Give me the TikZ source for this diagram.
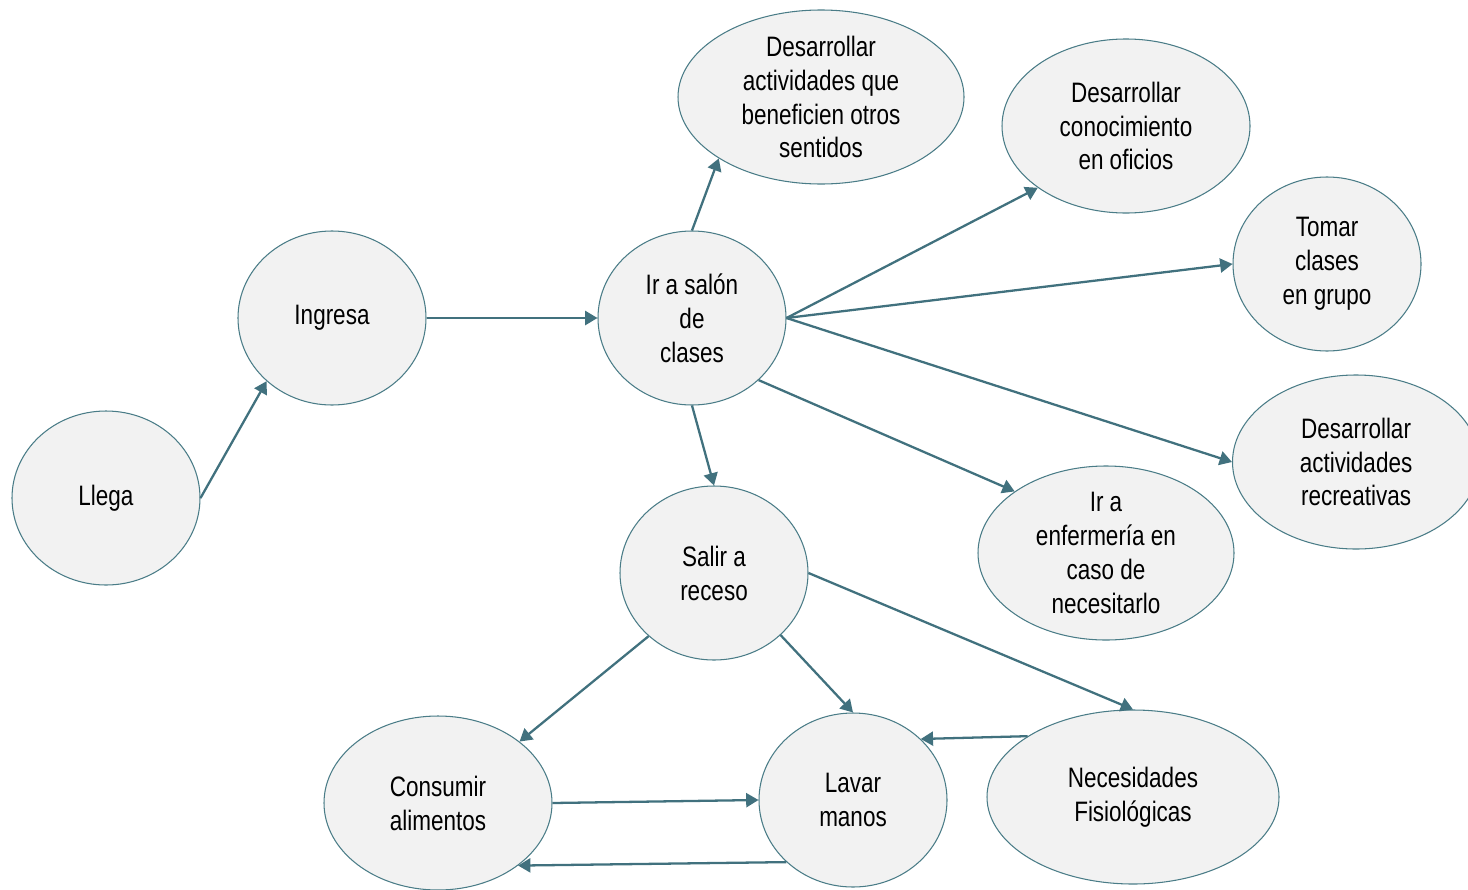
\documentclass[tikz,border=0pt]{standalone}
\usepackage{fontspec}
\setmainfont{Liberation Sans}[FakeStretch=0.8]
\usetikzlibrary{shapes.geometric,arrows.meta}

\definecolor{borde}{HTML}{4A7C87}
\definecolor{relleno}{HTML}{F2F2F2}
\definecolor{linea}{HTML}{41717E}

\tikzstyle{estado}=[draw=borde,line width=0.6pt,fill=relleno,ellipse,inner sep=0pt,minimum height=3.48cm,align=center,font=\fontsize{16}{19.3}\selectfont]
\tikzstyle{flecha} = [draw=linea,line width=1.3pt,-{Triangle[length=7pt,width=8pt]}]

\begin{document}
\begin{tikzpicture}
    \useasboundingbox (0,0) rectangle (29.36,-17.78);
    % First we draw the states
    \foreach \pos/\name/\ancho/\texto in {{(2.12,-9.96)/llega/3.76/Llega}, {(6.64,-6.36)/ingresa/3.76/Ingresa},
        {(13.84,-6.36)/salon/3.76/Ir a salón\\de\\clases}, {(16.42,-1.94)/sentidos/5.72/Desarrollar\\actividades que\\beneficien otros\\sentidos},
        {(22.52,-2.52)/oficios/4.96/Desarrollar\\conocimiento\\en oficios}, {(26.54,-5.28)/grupo/3.76/Tomar\\clases\\en grupo},
        {(27.12,-9.24)/recreativas/4.94/Desarrollar\\actividades\\recreativas}, {(22.12,-11.06)/enfermeria/5.12/Ir a\\enfermería en\\caso de\\necesitarlo},
        {(14.28,-11.46)/receso/3.76/Salir a\\receso}, {(8.76,-16.06)/alimentos/4.56/Consumir\\alimentos},
        {(17.06,-16.0)/manos/3.76/Lavar\\manos}, {(22.66,-15.94)/fisiologicas/5.84/Necesidades\\Fisiológicas}}
        \node[estado,minimum width=\ancho cm] (\name) at \pos {\texto};
    % Connect states with arrows
    \foreach \source/ \dest in {llega.east/ingresa.224, ingresa/salon, salon.north/sentidos.211, salon.east/oficios.215,
        salon.east/grupo.west, salon.east/recreativas.west, salon.317/enfermeria.146, salon.south/receso.north,
        receso.east/fisiologicas.north, receso.317/manos.north, receso.224/alimentos.37, alimentos.east/manos.west,
        manos.223/alimentos.322, fisiologicas.150/manos.42}
        \path[flecha] (\source) -- (\dest);
\end{tikzpicture}
\end{document}
